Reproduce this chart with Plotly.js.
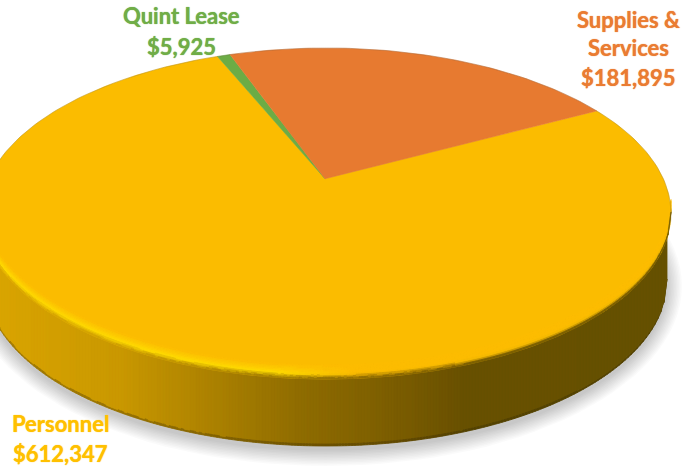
<!DOCTYPE html>
<html>
<head>
<meta charset="utf-8">
<script src="https://cdn.plot.ly/plotly-3.0.1.min.js"></script>
<style>html,body{margin:0;padding:0;background:#fff}#chart{width:688px;height:469px}</style>
</head>
<body>
<div id="chart"></div>
<script>
// ---- data ----
const categories = ["Personnel", "Quint Lease", "Supplies & Services"];
const values = [612347, 5925, 181895];
const sliceColors = ["#fbbc00", "#6cac45", "#e77a30"];
const labelColors = ["#ffc000", "#70ad47", "#ea7c32"];

// ---- chart geometry ----
const W = 688, H = 469;
const firstSliceDeg = 61.9;       // clockwise from 12 o'clock
const faceE = {cx: 326, cy: 213.5, rx: 345, ry: 165.5};
const baseE = {cx: 326, cy: 281, rx: 341, ry: 165};
const persp = -0.21;              // projective shift of the pie centre
const bevel = 14;
const step = 3;
const labelLayout = [
  {x: 60,  lines: [[423, "name"], [453, "value"]]},
  {x: 181, lines: [[15, "name"], [46, "value"]]},
  {x: 628, lines: [[19, "Supplies &"], [47, "Services"], [77, "value"]]}
];

// ---- helpers ----
function hex(c){return [1,3,5].map(i=>parseInt(c.substr(i,2),16));}
function mix(a,b,t){return a.map((v,i)=>v+(b[i]-v)*t);}
function css(c){return "rgb("+c.map(v=>Math.round(v/2)*2).join(",")+")";}
const rimStops = [[-20,"#dca600"],[120,"#c99800"],[230,"#a67d00"],[300,"#8f6c00"],[400,"#7a5c00"],[465,"#685000"],[690,"#665000"]]
  .map(s=>[s[0],hex(s[1])]);
function rimColor(x){
  for(let i=1;i<rimStops.length;i++){
    if(x<=rimStops[i][0]){
      const a=rimStops[i-1],b=rimStops[i];
      return mix(a[1],b[1],(x-a[0])/(b[0]-a[0]));
    }
  }
  return rimStops[rimStops.length-1][1];
}
function project(deg){
  const th=deg*Math.PI/180, x=Math.sin(th), y=-Math.cos(th);
  const d=1+persp*y;
  return [faceE.cx+faceE.rx*x*Math.sqrt(1-persp*persp)/d, faceE.cy+faceE.ry*(y+persp)/d];
}
function lowerY(e,x,shift){
  const u=(x-e.cx)/e.rx;
  return e.cy+e.ry*Math.sqrt(Math.max(0,1-u*u))-(shift||0);
}
const apex = [faceE.cx-1, faceE.cy+faceE.ry*persp];

const traces = [];
function fillTrace(xs,ys,color,lineColor,lw){
  traces.push({type:"scatter",mode:"lines",x:xs,y:ys,fill:"toself",fillcolor:color,
    line:{color:lineColor||color,width:lw===undefined?0.8:lw},hoverinfo:"skip",showlegend:false});
}
function addStrip(groups,x0,x1,yTop0,yTop1,yBot0,yBot1,color){
  const key=css(color);
  if(!groups.has(key)) groups.set(key,{x:[],y:[]});
  const g=groups.get(key);
  g.x.push(x0,x1,x1,x0,x0,null);
  g.y.push(yTop0,yTop1,yBot1,yBot0,yTop0,null);
}

// soft shadow
for(let k=15;k>=0;k-=1.5){
  const xs=[],ys=[];
  for(let a=0;a<=360;a+=3){
    xs.push(baseE.cx+(baseE.rx+k)*Math.cos(a*Math.PI/180));
    ys.push(baseE.cy+5+(baseE.ry+k)*Math.sin(a*Math.PI/180));
  }
  fillTrace(xs,ys,"rgba(0,0,0,0.021)","rgba(0,0,0,0)",0);
}

// rim
const rimGroups = new Map();
for(let x=-20;x<baseE.cx+baseE.rx;x+=step){
  const x0=x,x1=Math.min(x+step,baseE.cx+baseE.rx);
  const c=rimColor((x0+x1)/2);
  const a0=lowerY(faceE,x0,6),a1=lowerY(faceE,x1,6);
  const b0=lowerY(baseE,x0),b1=lowerY(baseE,x1);
  addStrip(rimGroups,x0,x1,a0,a1,b0-2,b1-2,c);
  addStrip(rimGroups,x0,x1,b0-2,b1-2,b0,b1,mix(c,[40,30,0],0.3));
}
rimGroups.forEach((g,color)=>fillTrace(g.x,g.y,color));

// ---- pie faces, from the values ----
const total = values.reduce((a,b)=>a+b,0);
let cursor = firstSliceDeg;
values.forEach((v,i)=>{
  const span=v/total*360, xs=[apex[0]], ys=[apex[1]];
  const n=Math.max(4,Math.ceil(span));
  for(let j=0;j<=n;j++){
    const p=project(cursor+span*j/n);
    xs.push(p[0]);ys.push(p[1]);
  }
  xs.push(apex[0]);ys.push(apex[1]);
  traces.push({type:"scatter",mode:"lines",x:xs,y:ys,fill:"toself",fillcolor:sliceColors[i],
    line:{color:sliceColors[i],width:0.5},name:categories[i],hoverinfo:"name",showlegend:false});
  cursor+=span;
});

// bevel on the lower edge of the face
const face = hex(sliceColors[0]);
const glow = hex("#ffdb00");
const bevelGroups = new Map();
const nb = 10;
for(let x=faceE.cx-faceE.rx;x<faceE.cx+faceE.rx;x+=step){
  const x0=x,x1=Math.min(x+step,faceE.cx+faceE.rx),xm=(x0+x1)/2;
  const h=Math.max(0,Math.min(1,(355-xm)/80));
  const rim=rimColor(xm);
  for(let k=0;k<nb;k++){
    const t0=k/nb,t1=(k+1)/nb,tm=(t0+t1)/2;
    let c;
    if(tm<0.36){
      const base=mix(rim,face,tm/0.36);
      c=mix(base,mix(rim,glow,tm/0.36),h);
    }else{
      const q=(tm-0.36)/0.64;
      c=mix(mix(face,glow,h),face,q);
    }
    addStrip(bevelGroups,x0,x1,lowerY(faceE,x0,bevel*t1),lowerY(faceE,x1,bevel*t1),
             lowerY(faceE,x0,bevel*t0),lowerY(faceE,x1,bevel*t0),c);
  }
}
bevelGroups.forEach((g,color)=>fillTrace(g.x,g.y,color));

// thin dark outline on the far edge
(function(){
  const xs=[],ys=[];
  for(let a=178;a<=365;a+=2){
    xs.push(faceE.cx+faceE.rx*Math.cos(a*Math.PI/180));
    ys.push(faceE.cy+faceE.ry*Math.sin(a*Math.PI/180));
  }
  traces.push({type:"scatter",mode:"lines",x:xs,y:ys,line:{color:"rgba(90,80,70,0.22)",width:1},
    hoverinfo:"skip",showlegend:false});
})();

// ---- labels ----
const annotations=[];
categories.forEach((name,i)=>{
  labelLayout[i].lines.forEach(([y,what])=>{
    const text = what==="name" ? name : what==="value" ? "$"+values[i].toLocaleString("en-US") : what;
    annotations.push({xref:"x",yref:"y",x:labelLayout[i].x,y:y,text:text,showarrow:false,
      xanchor:"center",yanchor:"middle",
      font:{family:"Lato, 'Open Sans', sans-serif",size:22,color:labelColors[i],weight:700,
            shadow:"0 0 1px "+labelColors[i]}});
  });
});

Plotly.newPlot("chart",traces,{
  width:W,height:H,margin:{l:0,r:0,t:0,b:0},paper_bgcolor:"#fff",plot_bgcolor:"#fff",
  xaxis:{range:[0,W],visible:false,fixedrange:true},
  yaxis:{range:[H,0],visible:false,fixedrange:true},
  showlegend:false,annotations:annotations
},{displayModeBar:false,staticPlot:true});
</script>
</body>
</html>
